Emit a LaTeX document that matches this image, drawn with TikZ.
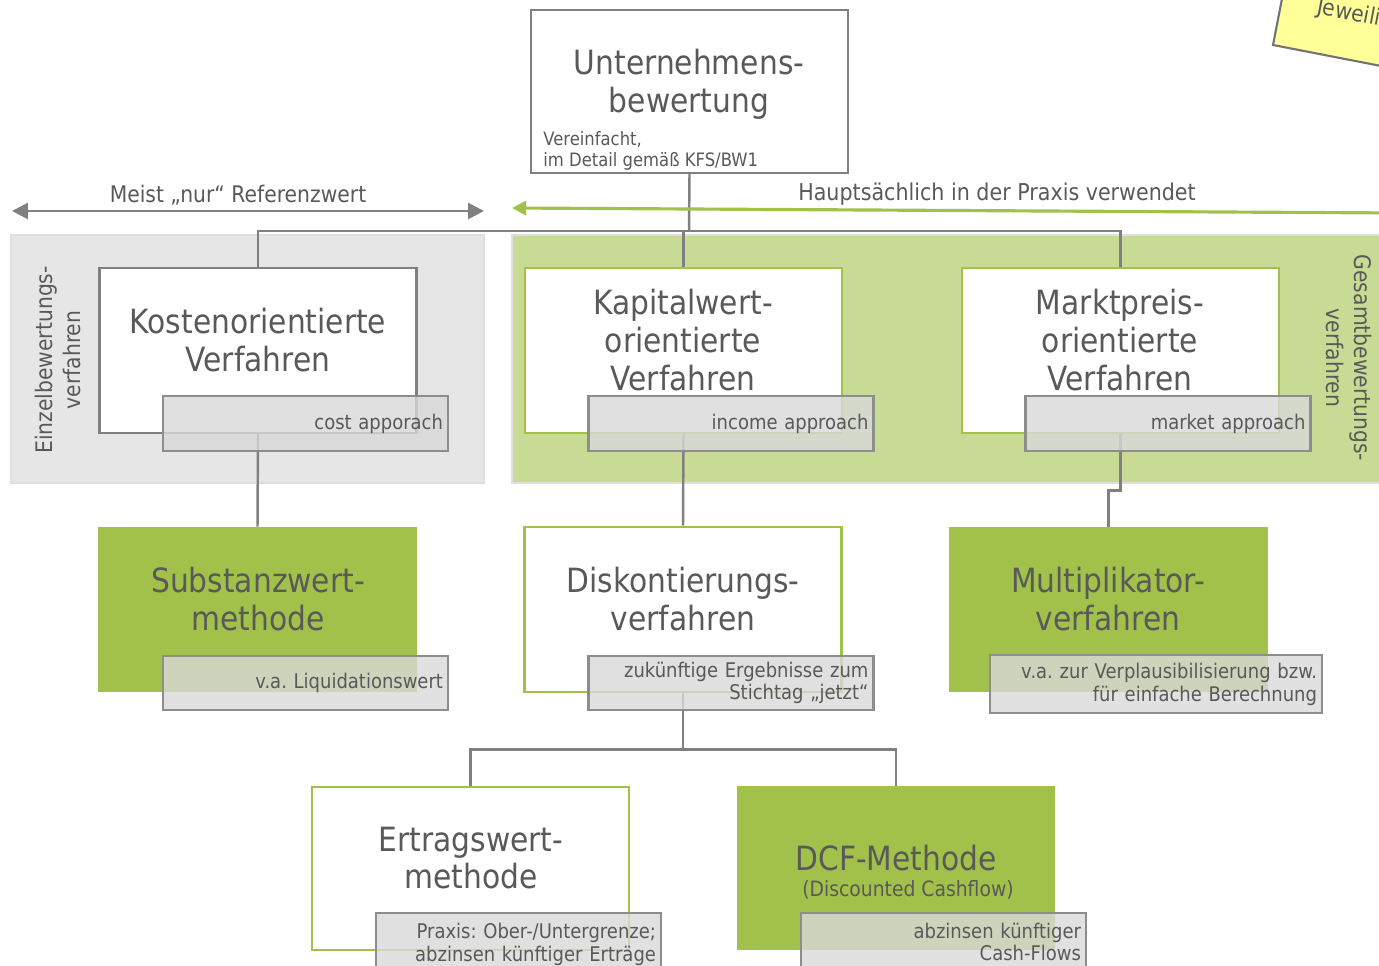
\documentclass[tikz,border=0pt]{standalone}
\usepackage{fontspec}
\setmainfont{DejaVu Sans}[FakeStretch=0.89]
\usetikzlibrary{arrows.meta,calc}
\frenchspacing

\definecolor{txtgray}{HTML}{595959}
\definecolor{linegray}{HTML}{808080}
\definecolor{boxgreen}{HTML}{A2C14A}
\definecolor{areagreen}{HTML}{C8DA93}
\definecolor{areagray}{HTML}{E6E6E6}
\definecolor{noteyellow}{HTML}{FFFF99}

\pgfdeclarelayer{areas}
\pgfdeclarelayer{lines}
\pgfsetlayers{areas,lines,main}

\tikzset{
  conn/.style={draw=linegray, line width=1.4pt},
  graybox/.style={draw=linegray, fill=white, line width=1.4pt, minimum width=6.34cm, minimum height=3.3cm},
  greenframe/.style={draw=boxgreen, fill=white, line width=1.6pt, minimum width=6.34cm, minimum height=3.3cm},
  greenbox/.style={fill=boxgreen, minimum width=6.38cm, minimum height=3.3cm},
  boxtitle/.style={text=txtgray, align=center, font=\fontsize{19}{21.5}\selectfont},
  approach/.style={draw=linegray!90, line width=1.4pt, fill=gray!30, fill opacity=0.8, text opacity=1,
    text=txtgray, align=right, text width=5.5cm, inner xsep=0.1cm, minimum height=1.1cm,
    font=\fontsize{11.5}{13}\selectfont},
  arealabel/.style={text=txtgray, align=center, font=\fontsize{13}{16}\selectfont},
}

\begin{document}
\begin{tikzpicture}[x=0.02cm, y=-0.02cm]
\useasboundingbox (0,0) rectangle (1379,966);
\clip (0,0) rectangle (1379,966);

% Bereiche
\begin{pgfonlayer}{areas}
  \filldraw[fill=areagray, draw=gray!25, line width=1.4pt] (11,235) rectangle (484,483);
  \filldraw[fill=areagreen, draw=gray!25, line width=1.4pt] (512,235) rectangle (1400,483);
\end{pgfonlayer}
\node[arealabel, rotate=90] (einzel) at (58,360) {Einzelbewertungs-\\verfahren};
\node[arealabel, rotate=-90] (gesamt) at (1349,358) {Gesamtbewertungs-\\verfahren};

% Pfeile oben
\coordinate (refL) at (12,211);
\coordinate (refR) at (484,211);
\draw[linegray, line width=1.6pt, {Triangle[length=9pt,width=9pt]}-{Triangle[length=9pt,width=9pt]}] (refL) -- (refR);
\node[text=txtgray, font=\fontsize{13}{15}\selectfont] (meist) at (238,195) {Meist „nur“ Referenzwert};
\coordinate (praxR) at (1400,213);
\coordinate (praxL) at (512,208);
\draw[boxgreen, line width=1.8pt, -{Triangle[length=8pt,width=8pt]}] (praxR) -- (praxL);
\node[text=txtgray, font=\fontsize{13.2}{15}\selectfont] (haupt) at (997,194) {Hauptsächlich in der Praxis verwendet};

% Wurzel
\node[graybox, minimum height=3.26cm] (top) at (689.5,91.5) {};
\node[boxtitle] (topT) at (689,84) {Unternehmens-\\bewertung};
\node[anchor=base west, inner sep=0pt, align=left, text=txtgray, font=\fontsize{10.5}{12.5}\selectfont] (topS) at (543,167) {Vereinfacht,\\im Detail gemäß KFS/BW1};
\coordinate (bar) at (689,231);

% Ebene 1
\node[graybox] (kosten) at (258,350.5) {};
\node[boxtitle] (kostenT) at (258,340) {Kostenorientierte\\Verfahren};
\node[approach] (cost) at (305.5,423.5) {cost apporach};

\node[greenframe] (kapital) at (683.5,350.5) {};
\node[boxtitle] (kapitalT) at (683,340) {Kapitalwert-\\orientierte\\Verfahren};
\node[approach] (income) at (731,423.5) {income approach};

\node[greenframe] (markt) at (1120.5,350.5) {};
\node[boxtitle] (marktT) at (1120,340) {Marktpreis-\\orientierte\\Verfahren};
\node[approach] (market) at (1168,423.5) {market approach};

% Ebene 2
\node[greenbox] (substanz) at (257.5,609.5) {};
\node[boxtitle] (substanzT) at (258,599) {Substanzwert-\\methode};
\node[approach, minimum height=1.08cm] (liquid) at (305.5,683) {v.a. Liquidationswert};

\node[greenframe] (diskont) at (683,609.5) {};
\node[boxtitle] (diskontT) at (683,599) {Diskontierungs-\\verfahren};
\node[approach, minimum height=1.08cm] (stichtag) at (731,683) {zukünftige Ergebnisse zum\\Stichtag „jetzt“};

\node[greenbox] (multi) at (1108.5,609.5) {};
\node[boxtitle] (multiT) at (1108,599) {Multiplikator-\\verfahren};
\node[approach, text width=6.44cm, minimum height=1.16cm] (plaus) at (1156,684) {v.a. zur Verplausibilisierung bzw.\\für einfache Berechnung};

% Ebene 3
\node[greenframe, minimum height=3.26cm] (ertrag) at (470.5,868.5) {};
\node[boxtitle] (ertragT) at (471,858) {Ertragswert-\\methode};
\node[approach, minimum height=1.24cm] (grenze) at (518.5,944) {Praxis: Ober-/Untergrenze;\\abzinsen künftiger Erträge};

\node[greenbox, minimum height=3.28cm] (dcf) at (896,868) {};
\node[boxtitle] (dcfT) at (896,858) {DCF-Methode};
\node[text=txtgray, font=\fontsize{12}{14}\selectfont] (dcfS) at (908,890) {(Discounted Cashflow)};
\node[approach, minimum height=1.16cm] (cash) at (943.5,942) {abzinsen künftiger\\Cash-Flows};

% Verbindungen
\begin{pgfonlayer}{lines}
  \draw[conn] (top.south) -- (bar);
  \draw[conn] (kosten.north) |- (bar) -| (markt.north);
  \draw[conn] (kapital.north) -- (kapital.north |- bar);
  \draw[conn] (kosten.south) -- (substanz.north);
  \draw[conn] (kapital.south) -- (diskont.north);
  \draw[conn] (markt.south) -- ++(0,56) -| (multi.north);
  \draw[conn] (diskont.south) -- ++(0,56) coordinate (fork);
  \draw[conn] (ertrag.north) |- (fork) -| (dcf.north);
\end{pgfonlayer}

% Notiz
\begin{scope}[shift={(1273,45)}, rotate=-11, transform shape]
  \filldraw[fill=noteyellow, draw=gray!110, line width=1.2pt] (0,0) rectangle (400,-200);
  \node[anchor=base west, text=txtgray, font=\fontsize{13}{15}\selectfont] (note) at (30,-39) {Jeweilig};
\end{scope}
\end{tikzpicture}
\end{document}
